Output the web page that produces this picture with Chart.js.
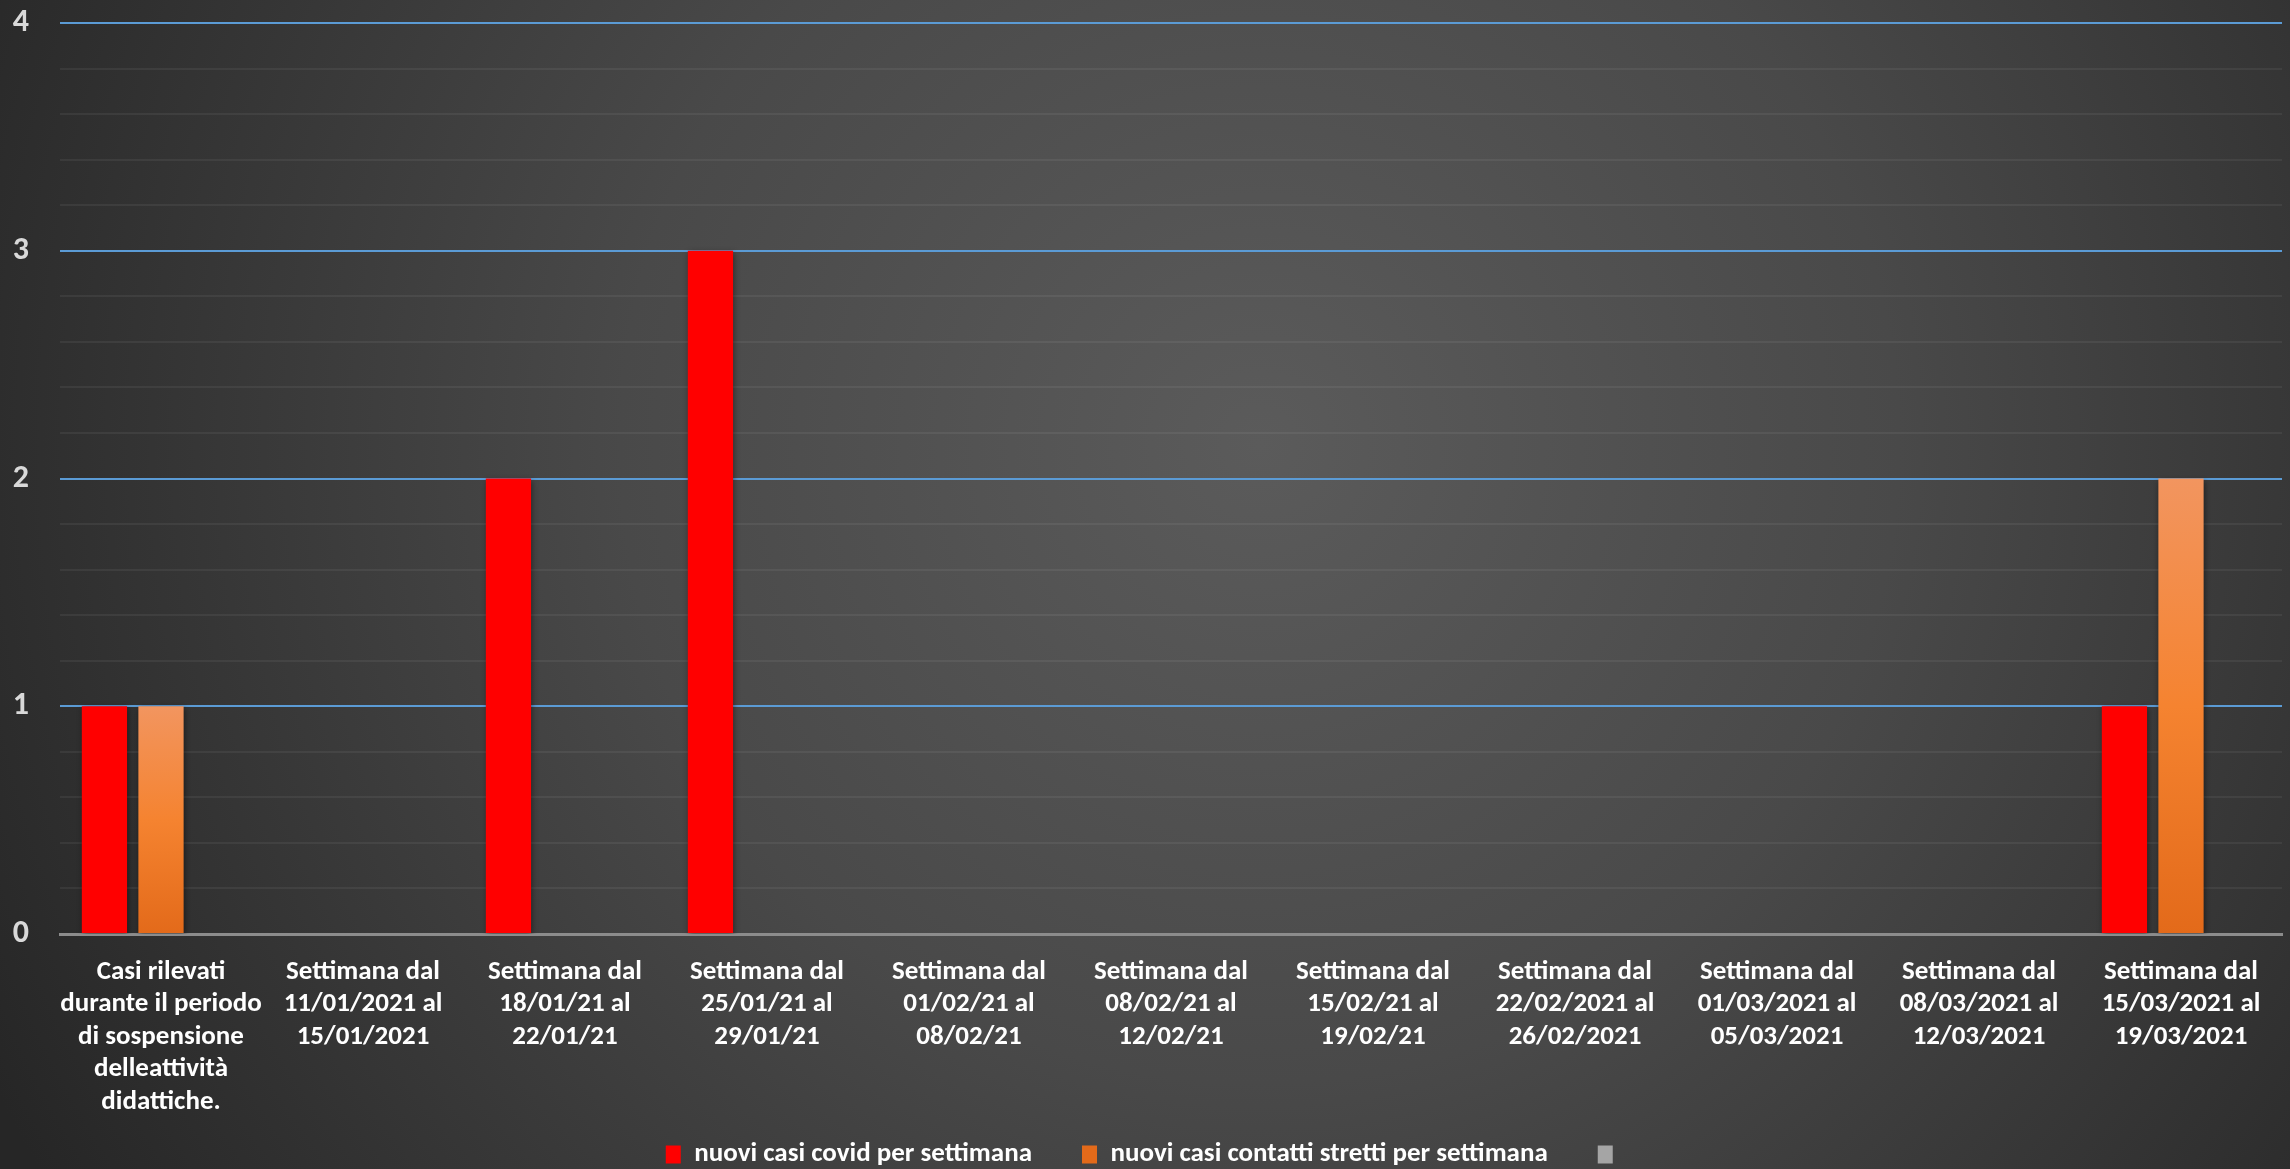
<!DOCTYPE html>
<html>
<head>
<meta charset="utf-8">
<script src="https://cdn.jsdelivr.net/npm/chart.js@4/dist/chart.umd.min.js"></script>
<style>
  html, body { margin: 0; padding: 0; background: #262626; }
  #wrap { width: 2290px; height: 1169px; }
</style>
</head>
<body>
<div id="wrap"><canvas id="myChart"></canvas></div>
<script>
const categories = [
    ['Casi rilevati', 'durante il periodo', 'di sospensione', 'delleattività', 'didattiche.'],
    ['Settimana dal', '11/01/2021 al', '15/01/2021'],
    ['Settimana dal', '18/01/21 al', '22/01/21'],
    ['Settimana dal', '25/01/21 al', '29/01/21'],
    ['Settimana dal', '01/02/21 al', '08/02/21'],
    ['Settimana dal', '08/02/21 al', '12/02/21'],
    ['Settimana dal', '15/02/21 al', '19/02/21'],
    ['Settimana dal', '22/02/2021 al', '26/02/2021'],
    ['Settimana dal', '01/03/2021 al', '05/03/2021'],
    ['Settimana dal', '08/03/2021 al', '12/03/2021'],
    ['Settimana dal', '15/03/2021 al', '19/03/2021']
];
const nuoviCasi = [1, 0, 2, 3, 0, 0, 0, 0, 0, 0, 1];
const contattiStretti = [1, 0, 0, 0, 0, 0, 0, 0, 0, 0, 2];
const terzaSerie = [0, 0, 0, 0, 0, 0, 0, 0, 0, 0, 0];
const yTicks = [0, 1, 2, 3, 4];

const fontFamily = "Carlito, 'Liberation Sans Narrow', 'Open Sans', sans-serif";
const legendLift = 41;

// sfondo scuro con alone chiaro al centro
const background = {
    id: 'background',
    beforeDraw(chart) {
        const c = chart.ctx;
        const w = chart.width, h = chart.height;
        const g = c.createRadialGradient(w * 0.55, h * 0.38, 0, w * 0.55, h * 0.38, w * 0.62);
        g.addColorStop(0, '#5b5b5b');
        g.addColorStop(0.45, '#494949');
        g.addColorStop(1, '#262626');
        c.save();
        c.fillStyle = g;
        c.fillRect(0, 0, w, h);
        c.restore();
    }
};

// ombra leggera sotto le barre
const barShadow = {
    id: 'barShadow',
    beforeDatasetsDraw(chart) {
        const c = chart.ctx;
        c.save();
        c.shadowColor = 'rgba(0,0,0,0.45)';
        c.shadowBlur = 6;
        c.shadowOffsetX = 1;
        c.shadowOffsetY = 2;
    },
    afterDatasetsDraw(chart) {
        chart.ctx.restore();
    }
};

// la legenda si sovrappone un po' allo spazio delle etichette
const legendOverlap = {
    id: 'legendOverlap',
    afterInit(chart) {
        const legend = chart.legend;
        const fit = legend.fit;
        legend.fit = function () {
            fit.call(this);
            this.height -= legendLift;
        };
    },
    afterLayout(chart) {
        const legend = chart.legend;
        legend.top -= legendLift;
        legend.height += legendLift;
    }
};

const orangeFill = (context) => {
    const chart = context.chart;
    if (!chart.chartArea) return '#f58330';
    if (context.type !== 'data') {
        return '#f07c2c';
    }
    const v = context.raw || 0;
    const y = chart.scales.y;
    const top = y.getPixelForValue(v);
    const bottom = y.getPixelForValue(0);
    if (bottom - top < 1) return '#f58330';
    const g = chart.ctx.createLinearGradient(0, top, 0, bottom);
    g.addColorStop(0, '#f2955f');
    g.addColorStop(0.5, '#f58330');
    g.addColorStop(1, '#e36a1a');
    return g;
};

const ctx = document.getElementById('myChart');

new Chart(ctx, {
    type: 'bar',
    data: {
        labels: categories,
        datasets: [{
            label: 'nuovi casi covid per settimana',
            data: nuoviCasi,
            backgroundColor: '#ff0000'
        }, {
            label: 'nuovi casi contatti stretti per settimana',
            data: contattiStretti,
            backgroundColor: orangeFill
        }, {
            label: '',
            data: terzaSerie,
            backgroundColor: '#a5a5a5'
        }]
    },
    options: {
        responsive: true,
        maintainAspectRatio: false,
        animation: false,
        layout: {
            padding: { left: 10, right: 8, top: 23, bottom: -9 }
        },
        datasets: {
            bar: {
                categoryPercentage: 0.84,
                barPercentage: 0.8
            }
        },
        plugins: {
            tooltip: { enabled: false },
            legend: {
                position: 'bottom',
                labels: {
                    color: '#ffffff',
                    font: { family: fontFamily, size: 27, weight: 'bold' },
                    boxWidth: 15,
                    boxHeight: 18,
                    padding: 50
                }
            }
        },
        scales: {
            x: {
                grid: { display: false },
                border: { color: '#8c8c8c', width: 3 },
                ticks: {
                    color: '#ffffff',
                    font: { family: fontFamily, size: 27, weight: 'bold', lineHeight: 1.2 },
                    maxRotation: 0,
                    autoSkip: false,
                    padding: 14
                }
            },
            y: {
                min: 0,
                max: 4,
                border: { display: false },
                afterBuildTicks(scale) {
                    const t = [];
                    for (let i = 0; i <= 20; i++) t.push({ value: i / 5 });
                    scale.ticks = t;
                },
                afterFit(scale) {
                    scale.width = 50;
                    scale.paddingTop = 0;
                    scale.paddingBottom = 0;
                },
                grid: {
                    drawTicks: false,
                    lineWidth: 2,
                    color: (c) => {
                        const v = Math.round(c.tick.value * 1000) / 1000;
                        if (v === 0) return 'rgba(0,0,0,0)';
                        return yTicks.includes(v) ? '#5b9bd5' : 'rgba(255,255,255,0.06)';
                    }
                },
                ticks: {
                    color: '#d9d9d9',
                    font: { family: fontFamily, size: 32, weight: 'bold' },
                    padding: 31,
                    callback: (value) => {
                        const v = Math.round(value * 1000) / 1000;
                        return yTicks.includes(v) ? String(v) : '';
                    }
                }
            }
        }
    },
    plugins: [background, barShadow, legendOverlap]
});
</script>
</body>
</html>
